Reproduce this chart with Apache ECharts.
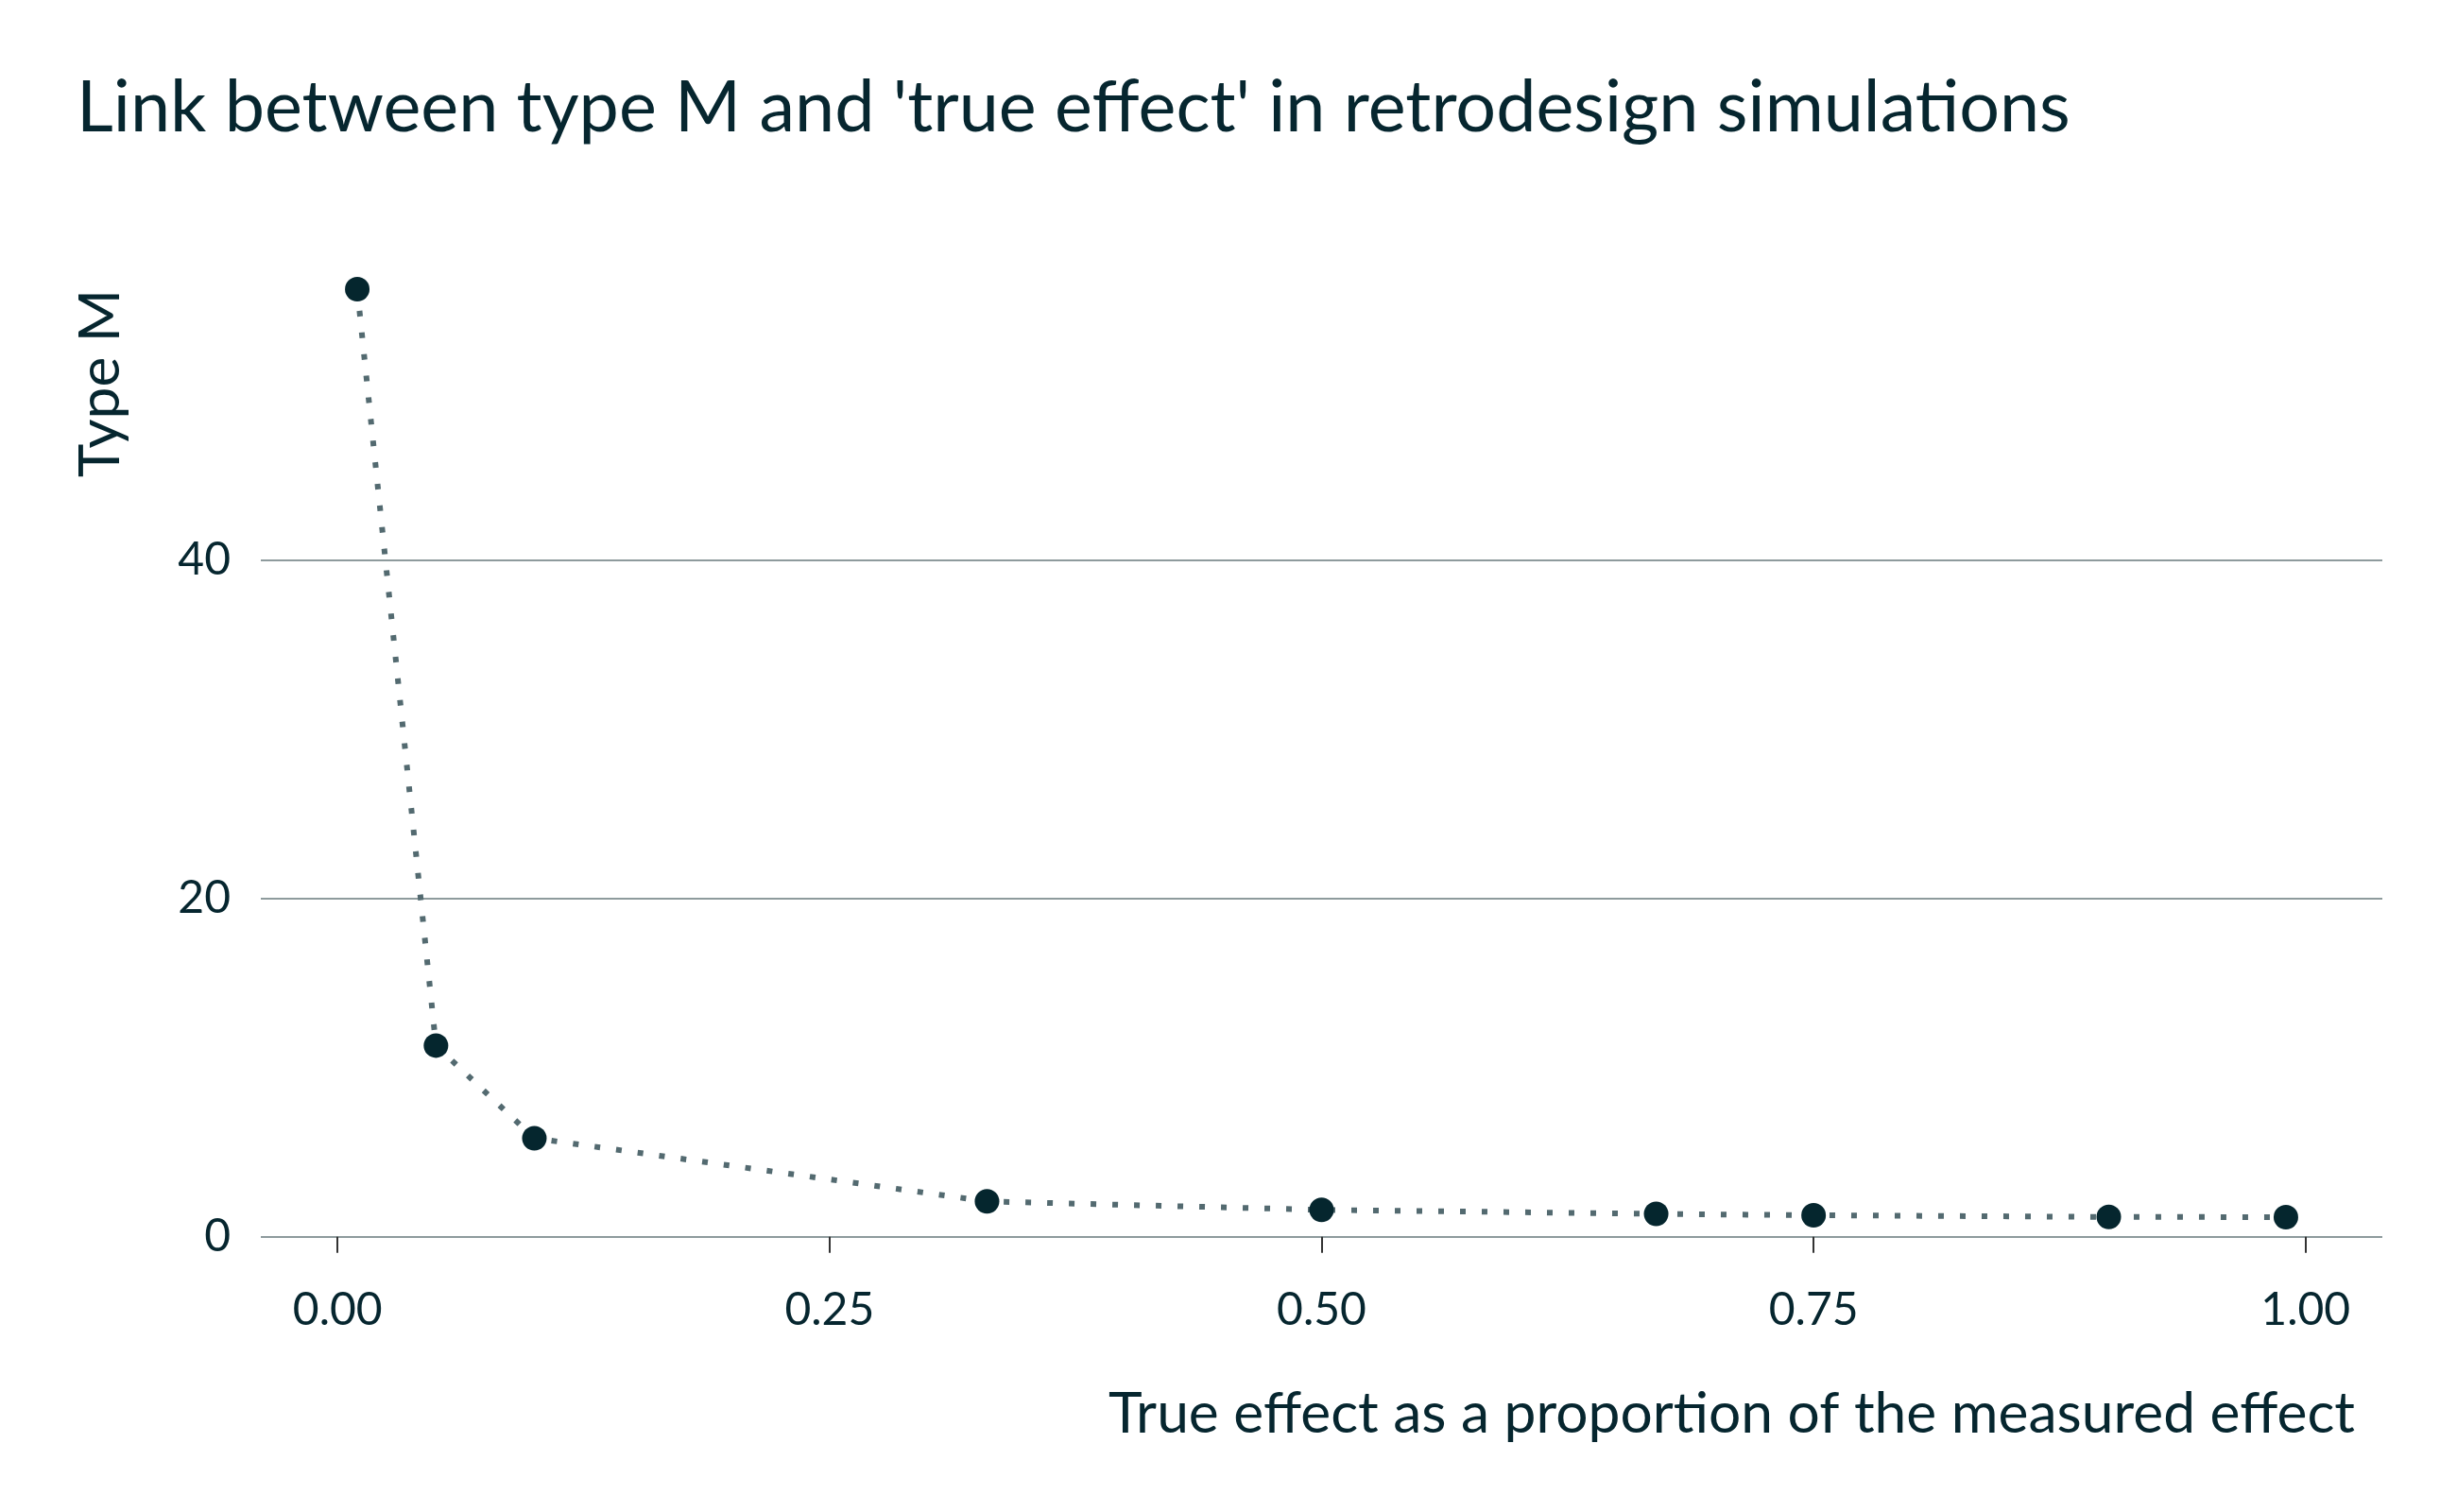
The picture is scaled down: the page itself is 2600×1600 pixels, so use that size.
<!DOCTYPE html>
<html>
<head>
<meta charset="utf-8">
<title>Type M vs true effect</title>
<script src="https://cdn.jsdelivr.net/npm/echarts@6/dist/echarts.min.js"></script>
<style>
  html, body { margin: 0; padding: 0; background: #fff; }
  #chart { width: 2600px; height: 1600px; }
</style>
</head>
<body>
<div id="chart"></div>
<script>
// true effect as a share of the measured effect, and the resulting type M
const trueEffect = [0.01, 0.05, 0.1, 0.33, 0.5, 0.67, 0.75, 0.9, 0.99]
const typeM = [56.0, 11.3, 5.82, 2.09, 1.59, 1.35, 1.27, 1.17, 1.16]
const xTicks = [0, 0.25, 0.5, 0.75, 1]
const yTicks = [0, 20, 40]

const ink = '#06262f'
const font = 'Lato'

let chart = echarts.init(document.getElementById('chart'))

let options = {
  backgroundColor: '#ffffff',
  animation: false,
  textStyle: { fontFamily: font, color: ink },
  title: {
    text: "Link between type M and 'true effect' in retrodesign simulations",
    left: 76,
    top: 72,
    textStyle: { fontFamily: font, fontSize: 75.5, fontWeight: 'normal', color: ink }
  },
  grid: {
    left: 276,
    right: 79,
    top: 257,
    bottom: 263,
    containLabel: false
  },
  xAxis: {
    type: 'value',
    min: -0.039,
    max: 1.039,
    axisLine: { show: false },
    axisTick: {
      show: true,
      customValues: xTicks,
      length: 17,
      lineStyle: { color: '#333333', width: 2 }
    },
    axisLabel: {
      customValues: xTicks,
      margin: 26,
      fontFamily: font,
      fontSize: 48,
      color: ink,
      formatter: v => v.toFixed(2)
    },
    splitLine: { show: false }
  },
  yAxis: {
    type: 'value',
    min: -1.58,
    max: 58.74,
    axisLine: { show: false },
    axisTick: { show: false, customValues: yTicks },
    axisLabel: {
      customValues: yTicks,
      margin: 32,
      fontFamily: font,
      fontSize: 48,
      color: ink
    },
    splitLine: { show: true, lineStyle: { color: '#8e9b9d', width: 2 } }
  },
  graphic: [
    {
      type: 'text',
      x: 106,
      y: 306,
      rotation: Math.PI / 2,
      style: {
        text: 'Type M',
        fontFamily: font,
        fontSize: 60.5,
        fill: ink,
        align: 'right',
        verticalAlign: 'middle'
      }
    },
    {
      type: 'text',
      x: 2492,
      y: 1496,
      style: {
        text: 'True effect as a proportion of the measured effect',
        fontFamily: font,
        fontSize: 60.5,
        fill: ink,
        align: 'right',
        verticalAlign: 'middle'
      }
    }
  ],
  series: [
    {
      type: 'line',
      data: trueEffect.map((x, i) => [x, typeM[i]]),
      symbol: 'circle',
      symbolSize: 26,
      showAllSymbol: true,
      itemStyle: { color: '#05262e' },
      lineStyle: { color: '#536a70', width: 6, type: [6, 17], cap: 'butt' }
    }
  ]
}

chart.setOption(options)
</script>
</body>
</html>
